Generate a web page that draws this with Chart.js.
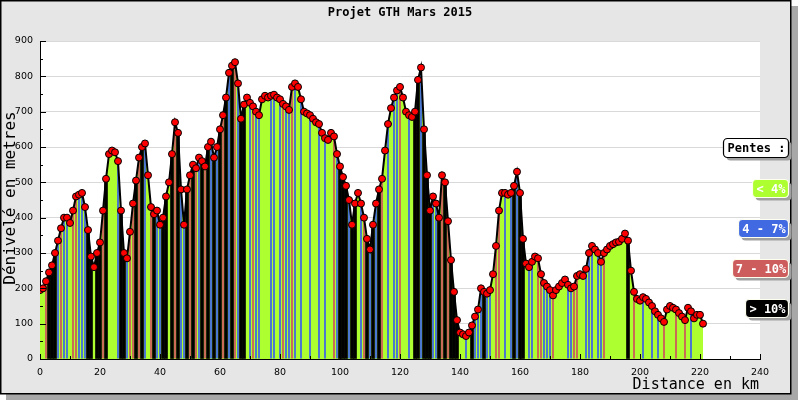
<!DOCTYPE html>
<html>
<head>
<meta charset="utf-8">
<script src="https://cdn.jsdelivr.net/npm/chart.js@4.4.1/dist/chart.umd.min.js"></script>
<style>
    html, body { margin: 0; padding: 0; background: #fff; }
    #wrap { width: 800px; height: 400px; }
</style>
</head>
<body>
<div id="wrap"><canvas id="profil" width="800" height="400"></canvas></div>
<script>
// Profil GTH : altitude relevée tous les km (0 -> 221 km)
const STEP_KM = 1;
const ALTITUDE = [
    195, 200, 220, 245, 265, 300, 335, 370, 400, 400,
    385, 420, 460, 465, 470, 430, 365, 290, 260, 300,
    330, 420, 510, 580, 590, 585, 560, 420, 300, 285,
    360, 440, 505, 570, 600, 610, 520, 430, 410, 420,
    380, 400, 460, 500, 580, 670, 640, 480, 380, 480,
    520, 550, 540, 570, 560, 545, 600, 615, 570, 600,
    650, 690, 740, 810, 830, 840, 780, 680, 720, 740,
    725, 715, 700, 690, 735, 745, 740, 745, 748, 740,
    735, 722, 715, 705, 770, 780, 770, 735, 700, 695,
    690, 680, 670, 665, 640, 625, 620, 640, 630, 580,
    545, 515, 490, 450, 380, 440, 470, 440, 400, 340,
    310, 380, 440, 480, 510, 590, 665, 710, 740, 760,
    770, 740, 700, 690, 685, 700, 790, 825, 650, 520,
    420, 460, 440, 400, 520, 500, 390, 280, 190, 110,
    75, 70, 65, 75, 95, 120, 140, 200, 190, 185,
    195, 240, 320, 420, 470, 470, 465, 470, 490, 530,
    470, 340, 270, 260, 275, 290, 285, 240, 215, 205,
    195, 180, 195, 205, 215, 225, 210, 200, 205, 235,
    240, 235, 255, 300, 320, 310, 300, 275, 300, 310,
    320, 325, 330, 332, 340, 355, 335, 250, 190, 170,
    165, 175, 170, 160, 150, 135, 125, 115, 105, 140,
    150, 145, 140, 130, 120, 110, 145, 135, 115, 125,
    125, 100
];

// classe de pente par km : 0 = < 4%, 1 = 4-7%, 2 = 7-10%, 3 = > 10%
const PENTE = [
    0,0,2,3,3,3,1,2,1,1,
    0,2,2,1,1,1,3,3,0,3,
    3,2,3,0,0,0,1,3,3,1,
    2,2,3,2,3,1,0,2,3,1,
    1,3,3,0,3,2,3,1,1,3,
    2,3,2,1,3,2,3,1,3,1,
    3,2,3,1,3,2,1,3,3,0,
    1,2,1,1,0,0,0,1,1,0,
    1,2,1,1,2,1,0,1,0,0,
    1,0,0,1,0,1,0,0,2,1,
    3,3,3,1,3,3,0,1,2,3,
    1,3,1,3,2,0,1,0,1,1,
    2,0,0,1,0,3,3,1,3,3,
    3,1,1,3,2,3,2,3,3,3,
    0,0,1,0,3,1,1,1,3,1,
    1,0,2,2,0,1,0,1,3,1,
    3,3,0,1,1,0,2,2,1,1,
    1,2,0,0,0,0,1,1,2,2,
    0,0,1,1,1,0,1,1,2,0,
    0,0,0,0,0,0,3,0,2,0,
    0,1,0,0,1,0,1,0,2,0,
    0,0,2,0,0,2,0,1,0,0,
    0,0
];

const PENTE_COLORS = ['#adff2f', '#4169e1', '#cd5c5c', '#000000'];
const PENTE_LABELS = ['< 4%', '4 - 7%', '7 - 10%', '> 10%'];

const X_TICKS = { min: 0, max: 240, step: 20 };
const Y_TICKS = { min: 0, max: 900, step: 100 };

const MONO = '"DejaVu Sans Mono", monospace';
const SANS = '"DejaVu Sans", sans-serif';

const profil = ALTITUDE.map((v, i) => ({ x: i * STEP_KM, y: v }));
const rayures = ALTITUDE.map((v, i) => ({ x: i * STEP_KM, y: (PENTE[i] === 1 || PENTE[i] === 2) ? v : null }));
const noirs = ALTITUDE.map((v, i) => ({ x: i * STEP_KM, y: PENTE[i] === 3 ? v : null }));

function line(ctx, x1, y1, x2, y2) {
    ctx.beginPath(); ctx.moveTo(x1, y1); ctx.lineTo(x2, y2); ctx.stroke();
}

const cadre = {
    id: 'cadre',
    beforeDraw(chart) {
        const ctx = chart.ctx, a = chart.chartArea;
        ctx.save();
        ctx.fillStyle = '#fff';
        ctx.fillRect(0, 0, 800, 400);
        ctx.fillStyle = '#a8a8a8';
        ctx.fillRect(6, 6, 792, 394);
        ctx.fillStyle = '#e6e6e6';
        ctx.fillRect(1, 1, 789, 392);
        ctx.strokeStyle = '#000';
        ctx.lineWidth = 1.5;
        ctx.strokeRect(0.75, 0.75, 790, 393);
        ctx.fillStyle = '#fff';
        ctx.fillRect(a.left, a.top, a.right - a.left, a.bottom - a.top);
        ctx.restore();
    },
    afterDraw(chart) {
        const ctx = chart.ctx, a = chart.chartArea;
        const xs = chart.scales.x, ys = chart.scales.y;
        ctx.save();

        // petites graduations vers l'intérieur
        ctx.strokeStyle = '#000';
        ctx.lineWidth = 1;
        for (let v = Y_TICKS.min; v <= Y_TICKS.max; v += Y_TICKS.step / 2) {
            const py = Math.round(ys.getPixelForValue(v)) + 0.5;
            line(ctx, a.left, py, a.left + (v % Y_TICKS.step === 0 ? 6 : 3), py);
        }
        for (let v = X_TICKS.min; v <= X_TICKS.max; v += X_TICKS.step / 2) {
            const px = Math.round(xs.getPixelForValue(v)) + 0.5;
            line(ctx, px, a.bottom, px, a.bottom - (v % X_TICKS.step === 0 ? 5 : 3));
        }

        // titres
        ctx.fillStyle = '#000';
        ctx.textBaseline = 'middle';
        ctx.textAlign = 'center';
        ctx.font = 'bold 12px ' + MONO;
        ctx.fillText('Projet GTH Mars 2015', 400, 13);

        ctx.font = '15px ' + MONO;
        ctx.textAlign = 'right';
        ctx.fillText('Distance en km', 759, 385);

        ctx.save();
        ctx.translate(11, 198);
        ctx.rotate(-Math.PI / 2);
        ctx.textAlign = 'center';
        ctx.font = '16px ' + MONO;
        ctx.fillText('Dénivelé en metres', 0, 0);
        ctx.restore();

        // légende des pentes
        const box = (x1, y1, x2, y2, fill, stroke, text, color) => {
            ctx.fillStyle = '#a0a0a0';
            ctx.beginPath(); ctx.roundRect(x1 + 3, y1 + 3, x2 - x1, y2 - y1, 4); ctx.fill();
            ctx.fillStyle = fill;
            ctx.beginPath(); ctx.roundRect(x1, y1, x2 - x1, y2 - y1, 4); ctx.fill();
            ctx.strokeStyle = stroke; ctx.lineWidth = 1.2; ctx.stroke();
            ctx.fillStyle = color;
            ctx.font = 'bold 12px ' + MONO;
            ctx.textAlign = 'center';
            ctx.fillText(text, (x1 + x2) / 2 + 0.5, (y1 + y2) / 2 + 1);
        };
        box(723.5, 138.5, 788.5, 157.5, '#fff', '#000', 'Pentes :', '#000');
        const tops = [179, 219, 259, 299];
        const lefts = [752, 738, 732, 745];
        PENTE_LABELS.forEach((t, i) => {
            box(lefts[i] + 0.5, tops[i] + 0.5, 788.5, tops[i] + 18.5, PENTE_COLORS[i], '#fffff0', t, '#fff');
        });
        ctx.restore();
    }
};

const tickFont = { family: SANS, size: 9.5 };

new Chart(document.getElementById('profil'), {
    type: 'bar',
    data: {
        datasets: [
            {
                type: 'line', data: profil, order: 0,
                borderColor: '#000', borderWidth: 2, tension: 0,
                pointRadius: 3.5, pointBackgroundColor: '#ff0000', pointBorderColor: '#000', pointBorderWidth: 1,
                fill: 'origin', backgroundColor: PENTE_COLORS[0]
            },
            {
                type: 'bar', data: rayures, order: 1, grouped: false,
                backgroundColor: PENTE.map(c => PENTE_COLORS[c]),
                barPercentage: 0.6, categoryPercentage: 1
            },
            {
                type: 'bar', data: noirs, order: 2, grouped: false,
                backgroundColor: PENTE_COLORS[3],
                barPercentage: 1, categoryPercentage: 1
            }
        ]
    },
    options: {
        responsive: false,
        animation: false,
        devicePixelRatio: 1,
        layout: { padding: { left: 0, top: 41, right: 40, bottom: 0 } },
        plugins: {
            legend: { display: false },
            tooltip: { enabled: false },
            filler: { drawTime: 'beforeDatasetsDraw' }
        },
        scales: {
            x: {
                type: 'linear', min: X_TICKS.min, max: X_TICKS.max, offset: false,
                ticks: { stepSize: X_TICKS.step, font: tickFont, color: '#000', padding: 8, maxRotation: 0 },
                grid: { display: false, drawTicks: false },
                border: { display: true, color: '#000', width: 1 },
                afterFit: s => { s.height = 41; }
            },
            y: {
                min: Y_TICKS.min, max: Y_TICKS.max,
                ticks: { stepSize: Y_TICKS.step, font: tickFont, color: '#000', padding: 7 },
                grid: { color: '#d9d9d9', drawTicks: false },
                border: { display: true, color: '#000', width: 1 },
                afterFit: s => { s.width = 40; }
            }
        }
    },
    plugins: [cadre]
});
</script>
</body>
</html>
